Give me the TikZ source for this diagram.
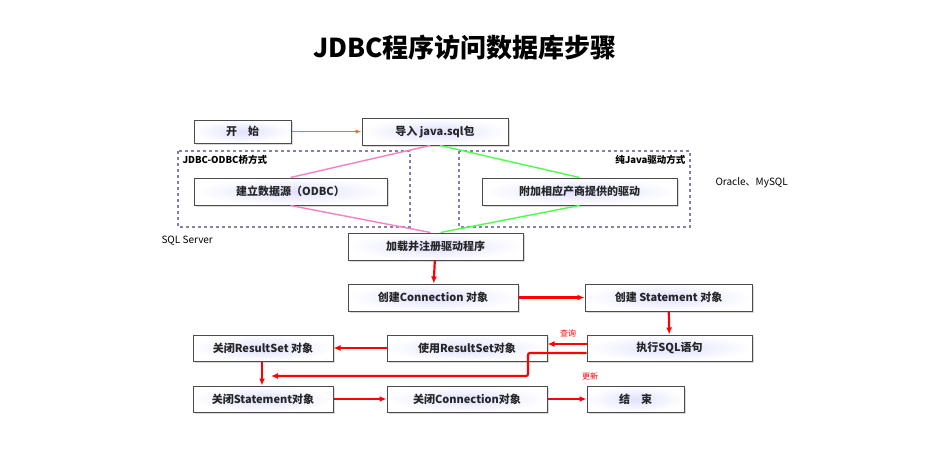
\documentclass[tikz,border=0pt]{standalone}
\usepackage{fontspec}
\setmainfont{Noto Sans CJK SC}
\usetikzlibrary{shadows,arrows.meta}
\begin{document}
\begin{tikzpicture}[x=1pt,y=-1pt,
 box/.style={draw=gray!60!black,line width=1pt,shade,shading=radial,inner color=blue!12,outer color=white,drop shadow={opacity=0.3,shadow xshift=1.5pt,shadow yshift=-1.5pt},font=\fontsize{11}{13}\selectfont\bfseries,text=black!85,inner sep=0pt},
 dbox/.style={draw=blue!25!gray!80,dashed,line width=1.1pt},
 ra/.style={red,line width=2.2pt,-{Latex[length=7pt,width=6pt]}},
 lab/.style={font=\fontsize{10}{12}\selectfont}]
\useasboundingbox (0,0) rectangle (931,471);
\node[font=\fontsize{26}{30}\selectfont\bfseries] (title) at (465,48) {JDBC程序访问数据库步骤};
\draw[dbox] (178,151) rectangle (410,227);
\draw[dbox] (459,151) rectangle (690,227);
\node[font=\fontsize{9.5}{11}\selectfont\bfseries,anchor=west] (t1) at (179,160) {JDBC-ODBC桥方式};
\node[font=\fontsize{9.5}{11}\selectfont\bfseries,anchor=east] (t2) at (689,160) {纯Java驱动方式};
\newcommand\bx[6]{\pgfmathsetmacro\bw{#4-#2}\pgfmathsetmacro\bh{#5-#3}\node[box,minimum width=\bw pt,minimum height=\bh pt] (#1) at ({(#2+#4)/2},{(#3+#5)/2}) {#6};}
\bx{start}{194}{120}{291}{143}{开\quad 始}
\bx{imp}{362}{118}{508}{145}{导入 java.sql包}
\bx{odbc}{194}{178}{387}{205}{建立数据源（ODBC）}
\bx{drv}{482}{178}{677}{205}{附加相应产商提供的驱动}
\bx{load}{348}{233}{523}{260}{加载并注册驱动程序}
\bx{conn}{348}{284}{518}{311}{创建Connection 对象}
\bx{stmt}{585}{284}{752}{311}{创建 Statement 对象}
\bx{exec}{587}{335}{752}{361}{执行SQL语句}
\bx{use}{387}{335}{547}{361}{使用ResultSet对象}
\bx{crs}{193}{335}{333}{361}{关闭ResultSet 对象}
\bx{cst}{193}{386}{333}{412}{关闭Statement对象}
\bx{ccn}{387}{386}{547}{412}{关闭Connection对象}
\bx{end}{587}{386}{684}{412}{结\quad 束}
\draw[orange!90!red,line width=1.2pt,-{Latex[length=6pt]}] (start) -- (imp);
\draw[magenta!50,line width=1.4pt] ([xshift=-5pt]imp.south) -- (odbc.north) (odbc.south) -- ([xshift=-5pt]load.north);
\draw[green!70,line width=1.4pt] ([xshift=5pt]imp.south) -- (drv.north) (drv.south) -- ([xshift=5pt]load.north);
\draw[ra] (load) -- (conn);
\draw[ra] (conn) -- (stmt);
\draw[ra] (stmt) -- (exec);
\draw[ra] ([yshift=4pt]exec.west) -- ([yshift=4pt]use.east);
\draw[ra] (use) -- (crs);
\draw[ra] ([xshift=-1pt]crs.south) -- ([xshift=-1pt]cst.north);
\coordinate (e1) at ([yshift=-5pt]exec.west);
\coordinate (u2) at (528,376);
\coordinate (u3) at (271,376);
\draw[ra,rounded corners=2pt] (e1) -- (e1 -| u2) -- (u2) -- (u3);
\draw[ra] (cst) -- (ccn);
\draw[ra] (ccn) -- (end);
\node[red,font=\fontsize{8}{9}\selectfont] (q) at (568,333) {查询};
\node[red,font=\fontsize{8}{9}\selectfont] (g) at (590,376) {更新};
\node[lab,anchor=west] (sql) at (158,241) {SQL Server};
\node[lab,anchor=west] (ora) at (712,183) {Oracle、MySQL};
\end{tikzpicture}
\end{document}
